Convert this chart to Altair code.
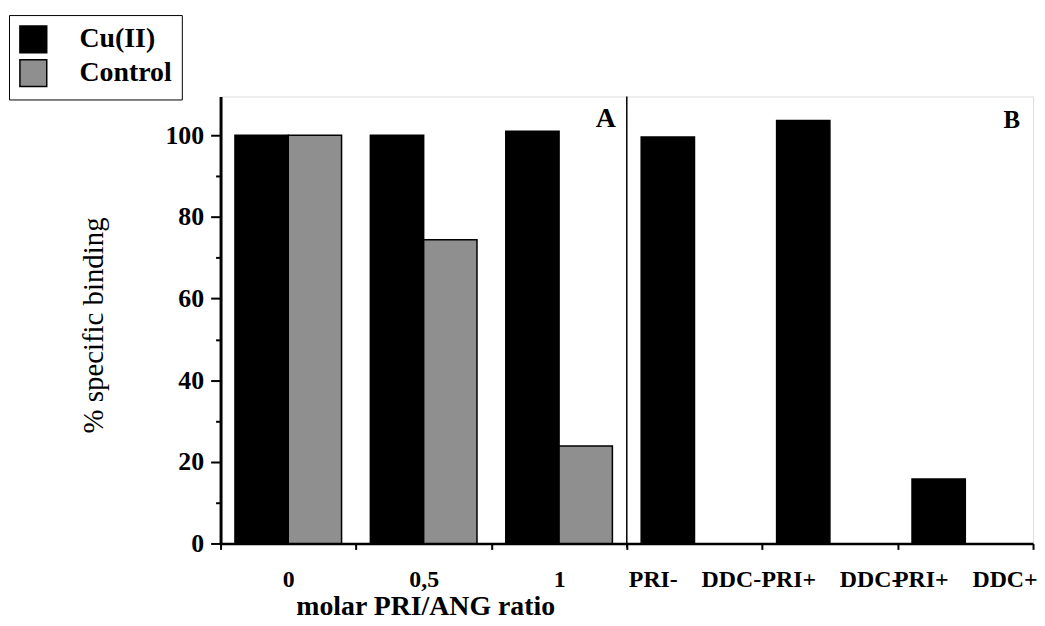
import altair as alt
import pandas as pd

groups = ["0", "0,5", "1", "PRI-\u2003DDC-", "PRI+\u2003DDC-", "PRI+\u2003DDC+"]
series = ["Cu(II)", "Control"]
cu_values = [100, 100, 101.0, 99.6, 103.6, 15.8]
control_values = [100, 74.4, 23.9, None, None, None]

rows = []
for g, c, k in zip(groups, cu_values, control_values):
    rows.append({"group": g, "series": "Cu(II)", "value": c})
    if k is not None:
        rows.append({"group": g, "series": "Control", "value": k})
df = pd.DataFrame(rows)

FONT = "Liberation Serif"
W, H = 818, 450

x_enc = alt.X(
    "group:N",
    sort=groups,
    scale=alt.Scale(paddingInner=0, paddingOuter=0),
    axis=alt.Axis(
        title="molar PRI/ANG ratio",
        titleFont=FONT, titleFontSize=28, titleFontWeight="bold",
        titleX=206, titleY=50, titleBaseline="top", titleAlign="center",
        labelFont=FONT, labelFontSize=24, labelFontWeight="bold",
        labelAngle=0, labelPadding=18, labelLimit=0,
        tickBand="extent", tickSize=6, tickWidth=2, tickColor="black",
        domainColor="black", domainWidth=2.5, labelColor="black",
    ),
)

bars = alt.Chart(df).mark_bar(stroke="black", strokeWidth=1.5).encode(
    x=x_enc,
    xOffset=alt.XOffset("series:N", sort=series,
                        scale=alt.Scale(paddingInner=0, paddingOuter=0.27)),
    y=alt.Y(
        "value:Q",
        scale=alt.Scale(domain=[0, 109.5], nice=False),
        axis=alt.Axis(
            title="% specific binding",
            titleFont=FONT, titleFontSize=29, titleFontWeight="normal",
            titleX=-128, titleY=230, titleBaseline="middle", titleAngle=-90,
            values=[0, 10, 20, 30, 40, 50, 60, 70, 80, 90, 100],
            labelExpr="datum.value % 20 === 0 ? datum.label : ''",
            labelFont=FONT, labelFontSize=26, labelFontWeight="bold",
            labelPadding=7, labelColor="black",
            tickSize={"condition": {"test": "datum.value % 20 === 0", "value": 10}, "value": 5},
            tickWidth=2, tickColor="black",
            domainColor="black", domainWidth=3, grid=False,
        ),
    ),
    color=alt.Color(
        "series:N", sort=series,
        scale=alt.Scale(domain=series, range=["#000000", "#8f8f8f"]),
        legend=alt.Legend(
            title=None, orient="none", legendX=-213, legendY=-82,
            direction="vertical",
            symbolType="square", symbolSize=729,
            symbolStrokeColor="black", symbolStrokeWidth=1.5,
            labelFont=FONT, labelFontSize=28, labelFontWeight="bold",
            labelColor="black", labelOffset=32, rowPadding=1,
            fillColor="white", strokeColor="black", padding=10,
        ),
    ),
)

divider_df = pd.DataFrame({"group": [groups[3]]})
divider = alt.Chart(divider_df).mark_rule(color="black", strokeWidth=1.5).encode(
    x=alt.X("group:N", sort=groups, bandPosition=0),
    y=alt.value(0),
    y2=alt.value(H + 4),
)

lab_a = alt.Chart(pd.DataFrame({"group": [groups[2]], "t": ["A"]})).mark_text(
    font=FONT, fontSize=28, fontWeight="bold", align="right", baseline="top",
    dx=-11, color="black",
).encode(x=alt.X("group:N", sort=groups, bandPosition=1), y=alt.value(9), text="t:N")

lab_b = alt.Chart(pd.DataFrame({"group": [groups[5]], "t": ["B"]})).mark_text(
    font=FONT, fontSize=25, fontWeight="bold", align="right", baseline="top",
    dx=-13, color="black",
).encode(x=alt.X("group:N", sort=groups, bandPosition=1), y=alt.value(12), text="t:N")

chart = alt.layer(bars, divider, lab_a, lab_b).properties(
    width=W, height=H,
    autosize=alt.AutoSizeParams(type="none"),
    padding={"left": 214, "top": 87, "right": 4, "bottom": 80},
).configure_view(stroke="black", strokeWidth=1.5).configure(background="white")

chart.save("out.html", embed_options={"renderer": "svg", "actions": False})
